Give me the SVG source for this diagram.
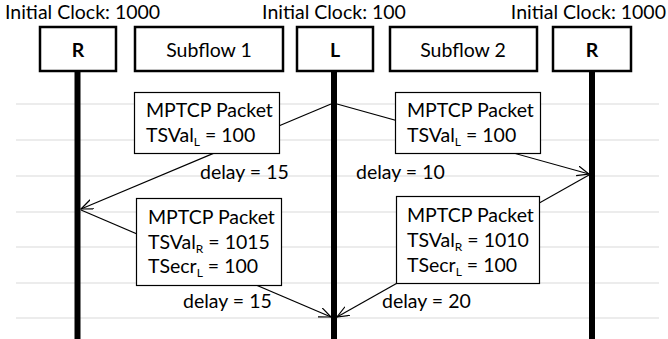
<svg xmlns="http://www.w3.org/2000/svg" width="668" height="339" viewBox="0 0 668 339">
<style>
text{font-family:Lato,"Liberation Sans",sans-serif;font-size:19.5px;fill:#000}
.b{font-weight:bold}
.head{fill:#fff;stroke:#000;stroke-width:2.5}
.pkt{fill:#fff;stroke:#000;stroke-width:1.2}
.grid line{stroke:#d9d9d9;stroke-width:1}
.life{stroke:#000;stroke-width:6}
.msg{stroke:#000;stroke-width:1.2;fill:none;marker-end:url(#arr)}
.sub{font-size:12px}
</style>
<defs>
<marker id="arr" markerUnits="userSpaceOnUse" markerWidth="14" markerHeight="12" refX="12" refY="5" orient="auto">
<path d="M0,0 L12,5 L0,10" fill="none" stroke="#000" stroke-width="1.2"/>
</marker>
</defs>
<rect width="668" height="339" fill="#fff"/>
<g class="grid">
<line x1="16" y1="104" x2="659" y2="104"/>
<line x1="16" y1="140" x2="659" y2="140"/>
<line x1="16" y1="176" x2="659" y2="176"/>
<line x1="16" y1="212" x2="659" y2="212"/>
<line x1="16" y1="247" x2="659" y2="247"/>
<line x1="16" y1="283" x2="659" y2="283"/>
<line x1="16" y1="318" x2="659" y2="318"/>
</g>
<g id="clock-labels">
<text x="5" y="19">Initial Clock: 1000</text>
<text x="334" y="19" text-anchor="middle">Initial Clock: 100</text>
<text x="666" y="19" text-anchor="end">Initial Clock: 1000</text>
</g>
<g id="lifelines">
<line class="life" x1="77.5" y1="72" x2="77.5" y2="339"/>
<line class="life" x1="334" y1="72" x2="334" y2="339"/>
<line class="life" x1="592" y1="72" x2="592" y2="339"/>
</g>
<g id="connectors">
<line class="msg" x1="331" y1="104" x2="81" y2="209"/>
<line class="msg" x1="337" y1="104" x2="589" y2="174"/>
<line class="msg" x1="589" y1="175" x2="337" y2="317"/>
<line class="msg" x1="81" y1="210" x2="331" y2="317"/>
</g>
<g id="node-R-left">
<rect class="head" x="40" y="27" width="76" height="44"/>
<text class="b" x="78" y="57" text-anchor="middle">R</text>
</g>
<g id="node-subflow1">
<rect class="head" x="135" y="27" width="148" height="44"/>
<text x="209" y="57" text-anchor="middle">Subflow 1</text>
</g>
<g id="node-L">
<rect class="head" x="297" y="27" width="76" height="44"/>
<text class="b" x="335" y="57" text-anchor="middle">L</text>
</g>
<g id="node-subflow2">
<rect class="head" x="390" y="27" width="147" height="44"/>
<text x="463" y="57" text-anchor="middle">Subflow 2</text>
</g>
<g id="node-R-right">
<rect class="head" x="553" y="27" width="78" height="44"/>
<text class="b" x="592" y="57" text-anchor="middle">R</text>
</g>
<g id="packet1">
<rect class="pkt" x="134.5" y="92.5" width="145" height="61"/>
<text x="146" y="117">MPTCP Packet</text>
<text x="146" y="142">TSVal<tspan class="sub" dy="4">L</tspan><tspan dy="-4"> = 100</tspan></text>
</g>
<g id="packet2">
<rect class="pkt" x="395.5" y="92.5" width="145" height="61"/>
<text x="407" y="117">MPTCP Packet</text>
<text x="407" y="142">TSVal<tspan class="sub" dy="4">L</tspan><tspan dy="-4"> = 100</tspan></text>
</g>
<g id="packet3">
<rect class="pkt" x="136.5" y="198.5" width="145" height="87"/>
<text x="148" y="224">MPTCP Packet</text>
<text x="148" y="249">TSVal<tspan class="sub" dy="4">R</tspan><tspan dy="-4"> = 1015</tspan></text>
<text x="148" y="273">TSecr<tspan class="sub" dy="4">L</tspan><tspan dy="-4"> = 100</tspan></text>
</g>
<g id="packet4">
<rect class="pkt" x="396.5" y="196.5" width="143" height="87"/>
<text x="407" y="222">MPTCP Packet</text>
<text x="407" y="247">TSVal<tspan class="sub" dy="4">R</tspan><tspan dy="-4"> = 1010</tspan></text>
<text x="407" y="272">TSecr<tspan class="sub" dy="4">L</tspan><tspan dy="-4"> = 100</tspan></text>
</g>
<g id="delay-labels">
<text x="200" y="179">delay = 15</text>
<text x="356" y="179">delay = 10</text>
<text x="183" y="308">delay = 15</text>
<text x="382" y="308">delay = 20</text>
</g>
</svg>
